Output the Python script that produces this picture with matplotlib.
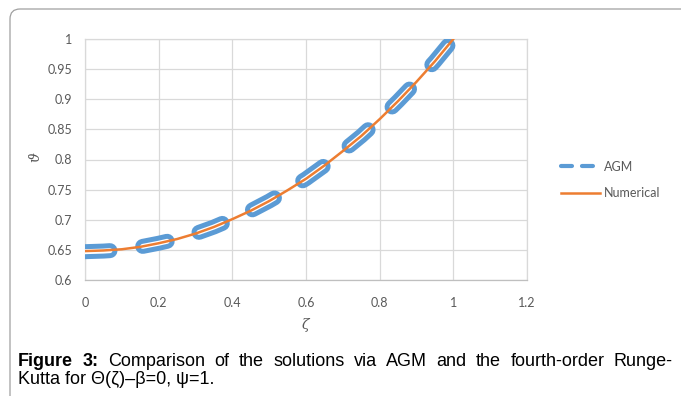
import matplotlib
matplotlib.use('Agg')
import matplotlib.pyplot as plt
import numpy as np
from matplotlib.lines import Line2D
from matplotlib.patches import FancyBboxPatch

plt.rcParams['lines.scale_dashes'] = False

# values
zeta = [0.0, 0.05, 0.1, 0.15, 0.2, 0.25, 0.3, 0.35, 0.4, 0.45, 0.5,
        0.55, 0.6, 0.65, 0.7, 0.75, 0.8, 0.85, 0.9, 0.95, 1.0]
theta_agm = [0.647, 0.648, 0.650, 0.655, 0.661, 0.668, 0.677, 0.688, 0.701, 0.715, 0.731,
             0.749, 0.768, 0.790, 0.814, 0.839, 0.867, 0.897, 0.929, 0.963, 1.000]
theta_num = [0.648, 0.649, 0.651, 0.655, 0.661, 0.668, 0.677, 0.688, 0.701, 0.715, 0.731,
             0.749, 0.768, 0.790, 0.814, 0.839, 0.867, 0.897, 0.929, 0.963, 1.000]

xticks = [0, 0.2, 0.4, 0.6, 0.8, 1.0, 1.2]
xtick_labels = ['0', '0.2', '0.4', '0.6', '0.8', '1', '1.2']
yticks = [0.6, 0.65, 0.7, 0.75, 0.8, 0.85, 0.9, 0.95, 1.0]
ytick_labels = ['0.6', '0.65', '0.7', '0.75', '0.8', '0.85', '0.9', '0.95', '1']

series_names = ['AGM', 'Numerical']

caption_line1 = [('Figure', 'bold'), ('3:', 'bold'), ('Comparison', 'normal'), ('of', 'normal'),
                 ('the', 'normal'), ('solutions', 'normal'), ('via', 'normal'), ('AGM', 'normal'),
                 ('and', 'normal'), ('the', 'normal'), ('fourth-order', 'normal'), ('Runge-', 'normal')]
caption_line2 = 'Kutta for Θ(ζ)–β=0, ψ=1.'

blue = '#5B9BD5'
orange = '#ED7D31'
grey_txt = '#595959'

W, H = 681, 396
fig = plt.figure(figsize=(W / 100, H / 100), dpi=100)

# outer rounded frame (runs off the right and bottom edge)
frame = FancyBboxPatch((0.10, -0.5), 7.5, 4.37, boxstyle='round,pad=0,rounding_size=0.1',
                       transform=fig.dpi_scale_trans, fill=False, ec='#A0A0A0', lw=0.9)
fig.add_artist(frame)

ax = fig.add_axes([85 / W, 1 - 280 / H, 442 / W, 241 / H])

# AGM: thick blue dashes with a light core
ax.plot(zeta, theta_agm, color=blue, lw=10.8, dashes=(18, 23.8), dash_capstyle='round', zorder=3)
ax.plot(zeta, theta_agm, color='white', lw=3.6, dashes=(18, 23.8), dash_capstyle='round', zorder=4)
ax.plot(zeta, theta_num, color=orange, lw=1.8, zorder=5)

ax.set_xlim(0, 1.2)
ax.set_ylim(0.6, 1.0)
ax.set_xticks(xticks)
ax.set_xticklabels(xtick_labels)
ax.set_yticks(yticks)
ax.set_yticklabels(ytick_labels)
for lab in ax.get_xticklabels() + ax.get_yticklabels():
    lab.set_family('Lato')
    lab.set_fontsize(9)
    lab.set_color(grey_txt)
ax.tick_params(axis='x', length=0, pad=12)
ax.tick_params(axis='y', length=0, pad=9)
ax.grid(color='#D9D9D9', lw=0.9)
ax.set_axisbelow(True)
for s in ax.spines.values():
    s.set_color('#D9D9D9')
    s.set_linewidth(0.9)
ax.spines['bottom'].set_color('#BFBFBF')

fig.text(305 / W, 1 - 325 / H, 'ζ', family='DejaVu Serif', style='italic', fontsize=10,
         color=grey_txt, ha='center', va='center')
fig.text(35 / W, 1 - 157 / H, 'ϑ', family='DejaVu Serif', style='italic', fontsize=10,
         color=grey_txt, ha='center', va='center', rotation=90)

h_agm = Line2D([], [], color=blue, lw=3, dashes=(7.9, 7.2), dash_capstyle='round')
h_num = Line2D([], [], color=orange, lw=1.8)
leg = ax.legend([h_agm, h_num], series_names, loc='center left',
                bbox_to_anchor=(555 / W, 1 - 180 / H), bbox_transform=fig.transFigure,
                frameon=False, borderpad=0, handlelength=3.1, handletextpad=0.3,
                labelspacing=1.15, prop={'family': 'Lato', 'size': 9})
for t in leg.get_texts():
    t.set_color(grey_txt)

# caption, first line justified
fig.canvas.draw()
r = fig.canvas.get_renderer()
y1 = 1 - 366 / H
objs = [fig.text(0, y1, w, fontsize=13, fontweight=wt, family=['Liberation Sans', 'DejaVu Sans'],
                 va='baseline', ha='left', color='black') for w, wt in caption_line1]
widths = [t.get_window_extent(r).width for t in objs]
x_left, x_right = 18, 673
gap = (x_right - x_left - sum(widths)) / (len(objs) - 1)
x = x_left
for t, w in zip(objs, widths):
    t.set_x(x / W)
    x += w + gap
fig.text(x_left / W, 1 - 384 / H, caption_line2, fontsize=13,
         family=['Liberation Sans', 'DejaVu Sans'], va='baseline', ha='left', color='black')

fig.savefig('out.png', dpi=100)
